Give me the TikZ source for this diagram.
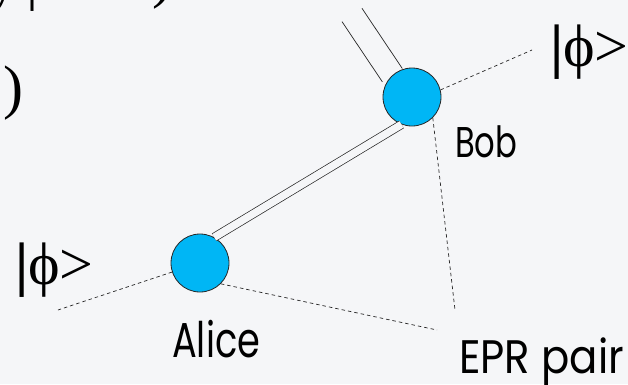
\documentclass[tikz,border=0pt]{standalone}
\usepackage{fontspec}
\usetikzlibrary{calc}
\setmainfont{Liberation Serif}
\newfontfamily\handfont[FakeStretch=0.75]{Poppins}
\newfontfamily\handwide[FakeStretch=0.89]{Poppins}
\begin{document}
\begin{tikzpicture}[x=1pt,y=-1pt,
  party/.style={circle, draw=black!85, line width=0.8pt, fill=partyblue,
                minimum size=58pt, inner sep=0pt},
  wire/.style={draw=black!85, line width=0.7pt},
  classical/.style={wire, double=bgpaper, double distance=7.5pt},
  quantum/.style={wire, dash pattern=on 3.5pt off 3pt},
  ket/.style={inner sep=0pt, anchor=base west, font=\fontsize{60}{60}\selectfont},
  who/.style={inner sep=0pt, anchor=base west}]
\definecolor{partyblue}{RGB}{0,182,245}
\definecolor{bgpaper}{RGB}{245,246,248}
\useasboundingbox (0,0) rectangle (628,384);
\fill[bgpaper] (0,0) rectangle (628,384);
\clip (0,0) rectangle (628,384);

% parties
\node[party] (bob) at (412,97) {};
\node[party] (alice) at (200,263) {};

% free ends of the connectors
\coordinate (src) at (352,15);
\coordinate (bobR) at (532,50);
\coordinate (aliceL) at (58,310);
\coordinate (eprB) at (455,310);
\coordinate (eprA) at (437,330);

% classical channel arriving at Bob from above: two parallel rails
\draw[wire] ($(src)!12pt!-90:(bob.132)$) -- ($(bob.132)!12pt!90:(src)$);
\draw[wire] ($(src)!12pt!90:(bob.132)$) -- ($(bob.132)!12pt!-90:(src)$);
% classical channel between Alice and Bob
\draw[classical] (alice.61) -- (bob.249);

% quantum lines
\draw[quantum] (bob.14) -- (bobR);
\draw[quantum] (bob.-45) -- (eprB);
\draw[quantum] (alice.198) -- (aliceL);
\draw[quantum] (alice.-45) -- (eprA);

% states
\node[ket] (ketB) at (550,66) {{\bfseries|}ϕ\kern-1pt>};
\node[ket] (ketA) at (15,284) {{\bfseries|}ϕ\kern-1pt>};
\node[ket] (paren) at (3,107) {)};
\node[ket] (topy) at (-12,-2) {y};
\node[ket] (topbar) at (26,-2) {|};
\node[ket] (topparen) at (152,-4) {)};

% labels
\node[who, font=\handfont\fontsize{43}{43}\selectfont] (lblB) at (455,157) {Bob};
\node[who, font=\handfont\fontsize{49}{49}\selectfont] (lblA) at (172,357) {Alice};
\node[who, font=\handwide\fontsize{47}{47}\selectfont] (lblE) at (459,373) {EPR pair};
\end{tikzpicture}
\end{document}
